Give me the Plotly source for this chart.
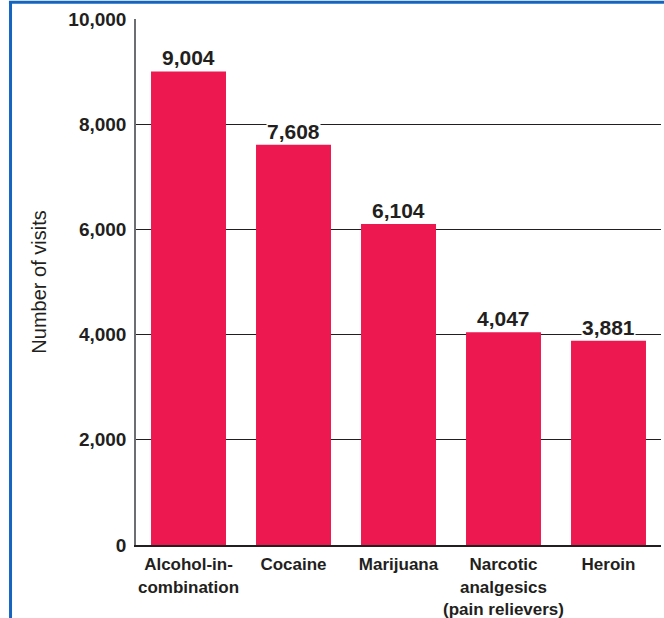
import plotly.graph_objects as go

categories = ["Alcohol-in-<br>combination", "Cocaine", "Marijuana",
              "Narcotic<br>analgesics<br>(pain relievers)", "Heroin"]
visits = [9004, 7608, 6104, 4047, 3881]
tick_vals = [0, 2000, 4000, 6000, 8000, 10000]
tick_text = ["0", "2,000", "4,000", "6,000", "8,000", "10,000"]

FONT = "Liberation Sans, Arial, Helvetica, sans-serif"
TXT = "#231f20"

fig = go.Figure()
fig.add_trace(go.Bar(
    x=list(range(len(categories))), y=visits,
    marker=dict(color="#ED1850", line=dict(width=0)),
    width=0.714, hoverinfo="skip",
))

for i, v in enumerate(visits):
    fig.add_annotation(
        x=i, y=v, xref="x", yref="y", text=f"<b>{v:,}</b>",
        showarrow=False, yanchor="bottom", yshift=1,
        font=dict(family=FONT, size=21, color=TXT),
        bgcolor="white", borderpad=0,
    )

fig.update_layout(
    width=664, height=618,
    margin=dict(l=136, r=3, t=19, b=73),
    paper_bgcolor="white", plot_bgcolor="white",
    showlegend=False,
    font=dict(family=FONT, color=TXT),
    xaxis=dict(
        range=[-0.5, 4.5], automargin=False,
        tickmode="array", tickvals=list(range(len(categories))),
        ticktext=[f"<b>{c}</b>" for c in categories],
        tickfont=dict(family=FONT, size=17, color=TXT),
        showgrid=False, zeroline=False,
        showline=True, linecolor=TXT, linewidth=2,
        ticks="", ticklabelstandoff=3,
    ),
    yaxis=dict(
        range=[0, 10000], automargin=False,
        tickmode="array", tickvals=tick_vals,
        ticktext=[f"<b>{t}</b>" for t in tick_text],
        tickfont=dict(family=FONT, size=19, color=TXT),
        showgrid=True, gridcolor=TXT, gridwidth=1.2,
        zeroline=False,
        showline=True, linecolor="#6d6e71", linewidth=1.5,
        ticks="", ticklabelstandoff=4,
        title=dict(text="Number of visits",
                   font=dict(family=FONT, size=20, color=TXT),
                   standoff=16),
    ),
    shapes=[
        dict(type="line", xref="paper", yref="paper",
             x0=-0.239, x1=-0.239, y0=1.033, y1=-0.3,
             line=dict(color="#1565C0", width=3)),
        dict(type="line", xref="paper", yref="paper",
             x0=-0.242, x1=1.2, y0=1.032, y1=1.032,
             line=dict(color="#1565C0", width=3)),
    ],
)

fig.write_html("out.html", config={"displayModeBar": False},
               post_script="document.body.style.margin='0px';document.body.style.overflow='hidden';")
